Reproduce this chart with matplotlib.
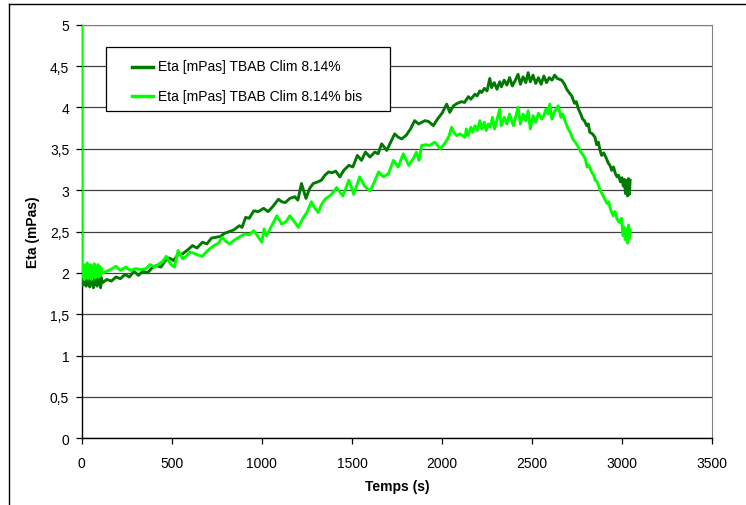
import matplotlib
matplotlib.use("Agg")
import matplotlib.pyplot as plt
from matplotlib.lines import Line2D
from matplotlib.patches import Rectangle
from matplotlib.ticker import FuncFormatter

plt.rcParams["font.family"] = ["Liberation Sans", "DejaVu Sans"]

# ---- data (time in s, viscosity in mPas) ----
LABEL_A = "Eta [mPas] TBAB Clim 8.14%"
T_A = [0, 5, 10, 15, 20, 25, 30, 35, 40, 45, 50, 55, 60, 65, 70, 75, 80, 85, 90, 95,
       100, 105, 110, 115, 140, 165, 190, 215, 240, 265, 290, 315, 340, 365, 390, 415,
       440, 465, 485, 510, 535, 560, 590, 615, 640, 670, 695, 720, 745, 770, 795, 820,
       845, 875, 890, 910, 930, 955, 980, 1010, 1035, 1060, 1092, 1110, 1130, 1155,
       1183, 1200, 1220, 1245, 1265, 1285, 1310, 1330, 1350, 1370, 1390, 1410, 1433,
       1455, 1483, 1505, 1530, 1553, 1575, 1600, 1627, 1645, 1665, 1693, 1715, 1737,
       1757, 1776, 1800, 1825, 1848, 1870, 1887, 1905, 1925, 1952, 1975, 2000, 2026,
       2043, 2064, 2085, 2109, 2125, 2146, 2160, 2183, 2195, 2210, 2220, 2235, 2250,
       2265, 2275, 2290, 2305, 2320, 2330, 2345, 2360, 2375, 2390, 2405, 2422, 2435,
       2450, 2465, 2478, 2490, 2505, 2520, 2535, 2550, 2565, 2580, 2595, 2610, 2625,
       2640, 2664, 2680, 2692, 2705, 2720, 2735, 2745, 2757, 2770, 2780, 2790, 2803,
       2812, 2820, 2835, 2849, 2858, 2868, 2877, 2886, 2898, 2913, 2922, 2932, 2942,
       2952, 2962, 2972, 2980, 2990, 2998, 3006, 3012, 3018, 3024, 3030, 3035, 3040, 3044]
ETA_A = [1.90, 1.85, 1.93, 1.86, 1.95, 1.84, 1.92, 1.87, 1.96, 1.83, 1.91, 1.88, 1.97,
         1.82, 1.93, 1.86, 1.95, 1.84, 1.92, 1.87, 1.96, 1.82, 1.94, 1.88, 1.92, 1.90,
         1.95, 1.93, 1.98, 1.95, 2.02, 1.97, 2.02, 2.00, 2.06, 2.09, 2.07, 2.15, 2.18,
         2.15, 2.22, 2.23, 2.28, 2.33, 2.30, 2.37, 2.35, 2.42, 2.43, 2.44, 2.48, 2.50,
         2.52, 2.57, 2.55, 2.67, 2.66, 2.75, 2.74, 2.78, 2.74, 2.80, 2.89, 2.86, 2.85,
         2.90, 2.92, 2.88, 3.08, 2.90, 3.02, 3.08, 3.10, 3.12, 3.18, 3.22, 3.21, 3.23,
         3.16, 3.24, 3.30, 3.28, 3.42, 3.36, 3.46, 3.40, 3.46, 3.44, 3.56, 3.48, 3.58,
         3.68, 3.64, 3.62, 3.66, 3.74, 3.84, 3.80, 3.82, 3.84, 3.83, 3.78, 3.86, 3.93,
         4.04, 3.94, 4.02, 4.05, 4.07, 4.06, 4.13, 4.10, 4.16, 4.14, 4.20, 4.18, 4.23,
         4.20, 4.35, 4.24, 4.30, 4.22, 4.31, 4.25, 4.33, 4.27, 4.36, 4.26, 4.32, 4.40,
         4.28, 4.37, 4.30, 4.42, 4.31, 4.39, 4.29, 4.36, 4.28, 4.38, 4.30, 4.36, 4.33,
         4.39, 4.35, 4.33, 4.28, 4.22, 4.18, 4.14, 4.05, 4.07, 3.98, 3.92, 3.86, 3.84,
         3.78, 3.80, 3.70, 3.68, 3.64, 3.55, 3.58, 3.48, 3.42, 3.45, 3.38, 3.33, 3.30,
         3.24, 3.28, 3.20, 3.16, 3.18, 3.10, 3.15, 3.05, 3.13, 2.96, 3.12, 2.93, 3.14,
         2.95, 3.12]

LABEL_B = "Eta [mPas] TBAB Clim 8.14% bis"
T_B = [0, 2, 6, 10, 15, 20, 25, 30, 35, 40, 45, 50, 55, 60, 65, 70, 75, 80, 85, 90, 95,
       100, 105, 110, 115, 130, 160, 190, 215, 245, 270, 300, 330, 355, 380, 405, 430,
       450, 470, 495, 515, 535, 560, 580, 600, 620, 640, 670, 690, 710, 735, 760, 780,
       800, 820, 850, 880, 905, 930, 955, 975, 1000, 1012, 1025, 1050, 1083, 1110,
       1135, 1155, 1180, 1203, 1225, 1250, 1275, 1295, 1313, 1330, 1350, 1370, 1387,
       1415, 1450, 1483, 1510, 1543, 1570, 1600, 1625, 1648, 1675, 1703, 1730, 1757,
       1785, 1815, 1840, 1858, 1872, 1887, 1910, 1930, 1960, 1990, 2010, 2026, 2040,
       2053, 2065, 2080, 2100, 2120, 2128, 2135, 2145, 2160, 2170, 2183, 2195, 2210,
       2220, 2235, 2245, 2257, 2268, 2280, 2292, 2305, 2320, 2328, 2345, 2360, 2375,
       2396, 2410, 2422, 2435, 2450, 2465, 2478, 2490, 2505, 2520, 2535, 2553, 2565,
       2577, 2588, 2598, 2610, 2625, 2645, 2660, 2670, 2682, 2700, 2712, 2725, 2740,
       2757, 2770, 2785, 2795, 2805, 2815, 2830, 2842, 2850, 2862, 2877, 2890, 2904,
       2915, 2925, 2938, 2950, 2960, 2970, 2980, 2987, 2995, 3005, 3012, 3018, 3024,
       3030, 3035, 3040, 3045]
ETA_B = [5.00, 2.05, 1.95, 2.10, 1.92, 2.08, 1.95, 2.12, 1.93, 2.06, 1.97, 2.10, 1.92,
         2.07, 1.96, 2.11, 1.94, 2.06, 1.98, 2.10, 1.95, 2.08, 1.97, 2.05, 2.00, 2.01,
         2.04, 2.08, 2.03, 2.07, 2.03, 2.05, 2.04, 2.05, 2.10, 2.07, 2.11, 2.14, 2.20,
         2.10, 2.07, 2.27, 2.17, 2.20, 2.25, 2.24, 2.22, 2.20, 2.25, 2.29, 2.33, 2.36,
         2.43, 2.38, 2.35, 2.40, 2.44, 2.47, 2.46, 2.51, 2.45, 2.37, 2.53, 2.45, 2.55,
         2.69, 2.59, 2.62, 2.69, 2.62, 2.55, 2.65, 2.73, 2.86, 2.78, 2.73, 2.82, 2.89,
         2.92, 2.95, 3.03, 2.93, 3.12, 2.95, 3.16, 3.05, 2.99, 3.10, 3.22, 3.16, 3.20,
         3.36, 3.28, 3.44, 3.30, 3.38, 3.46, 3.36, 3.54, 3.55, 3.54, 3.58, 3.50, 3.55,
         3.60, 3.66, 3.76, 3.70, 3.66, 3.68, 3.65, 3.64, 3.74, 3.66, 3.76, 3.70, 3.78,
         3.72, 3.84, 3.74, 3.82, 3.72, 3.80, 3.76, 3.88, 3.74, 3.85, 3.98, 3.78, 3.88,
         3.80, 3.92, 3.78, 3.90, 4.00, 3.80, 3.92, 3.84, 3.96, 3.74, 3.90, 3.82, 3.93,
         3.86, 3.90, 3.98, 3.92, 4.04, 3.86, 3.95, 4.02, 3.88, 3.92, 3.84, 3.74, 3.70,
         3.62, 3.58, 3.52, 3.46, 3.42, 3.38, 3.28, 3.30, 3.22, 3.18, 3.12, 3.10, 3.00,
         2.95, 2.89, 2.84, 2.86, 2.75, 2.69, 2.74, 2.66, 2.62, 2.61, 2.66, 2.45, 2.55,
         2.40, 2.53, 2.36, 2.58, 2.42, 2.52]

X_TICKS = [0, 500, 1000, 1500, 2000, 2500, 3000, 3500]
Y_TICKS = [0, 0.5, 1, 1.5, 2, 2.5, 3, 3.5, 4, 4.5, 5]
COLORS = ["#007A00", "#00FF00"]

W, H = 746, 506
fig = plt.figure(figsize=(W / 100, H / 100), dpi=100)
ax = fig.add_axes([0.1095, 0.1318, 0.8453, 0.8174])

ax.plot(T_A, ETA_A, color=COLORS[0], lw=2.1, zorder=3)
ax.plot(T_B, ETA_B, color=COLORS[1], lw=2.1, zorder=3)

ax.set_xlim(0, 3500)
ax.set_ylim(0, 5)
ax.set_xticks(X_TICKS)
ax.set_yticks(Y_TICKS)
ax.yaxis.set_major_formatter(FuncFormatter(lambda v, p: f"{v:g}".replace(".", ",")))
ax.tick_params(direction="out", length=4, width=0.9, labelsize=10, colors="black")
ax.tick_params(axis="y", pad=5)
ax.tick_params(axis="x", pad=9)
ax.yaxis.grid(True, color="#404040", lw=0.9)
ax.set_axisbelow(True)

for s in ("top", "right"):
    ax.spines[s].set_color("#808080")
for s in ("left", "bottom"):
    ax.spines[s].set_color("black")
    ax.spines[s].set_linewidth(1.0)

ax.set_xlabel("Temps (s)", fontsize=10, fontweight="bold", labelpad=6)
ax.set_ylabel("Eta (mPas)", fontsize=10, fontweight="bold", labelpad=7)

# legend box drawn like the spreadsheet one (pixel layout of the reference)
def fx(px):
    return px / W

def fy(py):
    return 1 - py / H

fig.add_artist(Rectangle((fx(106), fy(112)), fx(390) - fx(106), fy(48) - fy(112),
                         facecolor="white", edgecolor="black", lw=0.9, zorder=5))
for i, (lab, col) in enumerate(zip([LABEL_A, LABEL_B], COLORS)):
    yy = fy(67.5 + 29.3 * i)
    fig.add_artist(Line2D([fx(132), fx(153)], [yy, yy], color=col, lw=2.5, zorder=6))
    fig.text(fx(158), yy, lab, fontsize=10, va="center", ha="left", zorder=6)

# outer chart-area frame (left and top edges visible)
fig.add_artist(Line2D([fx(9), fx(9)], [0, fy(5)], color="black", lw=1.0))
fig.add_artist(Line2D([fx(9), 1], [fy(5), fy(5)], color="black", lw=1.0))

fig.savefig("out.png", dpi=100)
